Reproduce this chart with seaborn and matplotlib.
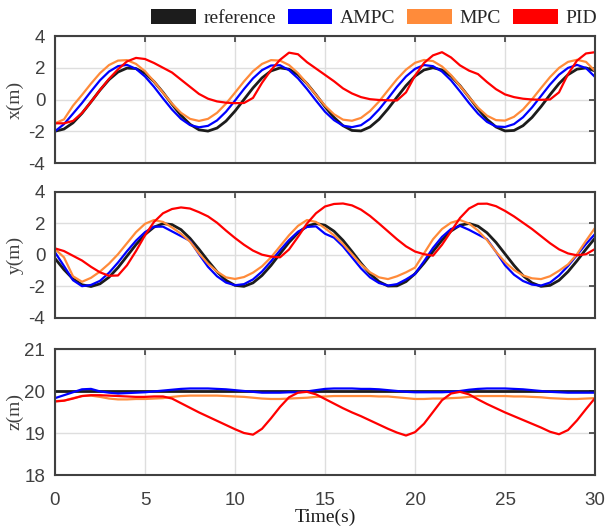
import numpy as np
import pandas as pd
import matplotlib
matplotlib.use("Agg")
import matplotlib.pyplot as plt
from matplotlib.patches import Patch
import seaborn as sns

# ---------------------------------------------------------------- data
time = np.linspace(0, 30, 61)  # 0.5 s sampling

x_reference = [-2.00, -1.86, -1.47, -0.87, -0.15, 0.59, 1.25, 1.73, 1.98, 1.95,
               1.65, 1.13, 0.45, -0.30, -1.00, -1.56, -1.91, -1.99, -1.80, -1.36,
               -0.73, 0.00, 0.73, 1.36, 1.80, 1.99, 1.91, 1.56, 1.00, 0.30,
               -0.45, -1.13, -1.65, -1.95, -1.98, -1.73, -1.25, -0.59, 0.15, 0.87,
               1.47, 1.86, 2.00, 1.86, 1.47, 0.87, 0.15, -0.59, -1.25, -1.73,
               -1.98, -1.95, -1.65, -1.13, -0.45, 0.30, 1.00, 1.56, 1.91, 1.99,
               1.80]
x_ampc = [-2.00, -1.55, -0.89, -0.22, 0.51, 1.21, 1.76, 2.10, 2.18, 1.93,
          1.45, 0.80, 0.07, -0.63, -1.22, -1.61, -1.75, -1.66, -1.32, -0.77,
          -0.07, 0.66, 1.33, 1.85, 2.14, 2.16, 1.85, 1.33, 0.66, -0.07,
          -0.77, -1.30, -1.65, -1.74, -1.62, -1.22, -0.63, 0.07, 0.80, 1.45,
          1.93, 2.17, 2.10, 1.76, 1.21, 0.51, -0.22, -0.89, -1.41, -1.70,
          -1.73, -1.55, -1.12, -0.50, 0.22, 0.94, 1.56, 1.99, 2.18, 1.98,
          1.42]
x_mpc = [-1.50, -1.25, -0.39, 0.29, 1.00, 1.66, 2.17, 2.45, 2.48, 2.24,
         1.78, 1.14, 0.43, -0.26, -0.84, -1.22, -1.35, -1.22, -0.84, -0.26,
         0.43, 1.14, 1.78, 2.24, 2.48, 2.45, 2.17, 1.66, 1.00, 0.29,
         -0.39, -0.93, -1.27, -1.34, -1.16, -0.73, -0.13, 0.58, 1.28, 1.88,
         2.31, 2.49, 2.42, 2.08, 1.54, 0.86, 0.15, -0.51, -1.02, -1.30,
         -1.33, -1.09, -0.63, 0.01, 0.72, 1.41, 1.99, 2.37, 2.50, 2.37,
         1.80]
x_pid = [-1.50, -1.50, -1.35, -0.85, -0.15, 0.60, 1.30, 1.90, 2.40, 2.62,
         2.55, 2.30, 2.00, 1.70, 1.25, 0.80, 0.35, 0.05, -0.12, -0.20,
         -0.23, -0.22, 0.10, 1.05, 1.85, 2.50, 2.95, 2.85, 2.35, 1.95,
         1.55, 1.15, 0.70, 0.38, 0.15, 0.02, -0.03, -0.05, -0.06, 0.45,
         1.50, 2.30, 2.78, 2.98, 2.65, 2.15, 1.82, 1.60, 1.10, 0.65,
         0.32, 0.15, 0.05, 0.00, -0.02, 0.00, 0.45, 1.60, 2.45, 2.90,
         2.98]

y_reference = [-0.22, -0.93, -1.52, -1.89, -2.00, -1.83, -1.41, -0.80, -0.07, 0.66,
               1.30, 1.77, 1.99, 1.93, 1.61, 1.06, 0.37, -0.37, -1.06, -1.61,
               -1.93, -1.99, -1.77, -1.30, -0.66, 0.08, 0.80, 1.41, 1.83, 2.00,
               1.89, 1.51, 0.93, 0.22, -0.52, -1.19, -1.69, -1.97, -1.96, -1.69,
               -1.19, -0.52, 0.23, 0.94, 1.52, 1.89, 2.00, 1.83, 1.41, 0.80,
               0.07, -0.66, -1.31, -1.77, -1.99, -1.93, -1.61, -1.06, -0.37, 0.37,
               1.07]
y_ampc = [0.17, -0.70, -1.60, -1.98, -1.90, -1.64, -1.13, -0.48, 0.24, 0.91,
          1.45, 1.80, 1.80, 1.50, 1.20, 0.90, 0.05, -0.75, -1.35, -1.75,
          -1.92, -1.85, -1.55, -1.05, -0.40, 0.30, 0.95, 1.48, 1.78, 1.82,
          1.35, 1.10, 0.55, -0.15, -0.85, -1.42, -1.78, -1.94, -1.85, -1.55,
          -1.20, -0.40, 0.45, 1.15, 1.65, 1.85, 1.60, 1.30, 1.00, 0.20,
          -0.65, -1.25, -1.65, -1.88, -1.94, -1.75, -1.30, -0.70, 0.00, 0.70,
          1.33]
y_mpc = [0.38, -0.15, -1.35, -1.70, -1.45, -1.05, -0.55, 0.05, 0.75, 1.45,
         1.98, 2.22, 2.10, 1.75, 1.35, 0.85, 0.10, -0.55, -1.05, -1.42,
         -1.52, -1.40, -1.12, -0.72, -0.15, 0.55, 1.25, 1.85, 2.22, 2.10,
         1.70, 1.25, 0.70, 0.05, -0.60, -1.10, -1.42, -1.53, -1.35, -1.10,
         -0.80, 0.10, 1.00, 1.65, 2.05, 2.22, 2.00, 1.55, 0.95, 0.20,
         -0.45, -0.95, -1.30, -1.48, -1.53, -1.35, -1.00, -0.60, 0.05, 0.90,
         1.72]
y_pid = [0.42, 0.25, -0.05, -0.35, -0.75, -1.10, -1.32, -1.30, -0.65, 0.25,
         1.25, 2.10, 2.65, 2.92, 3.02, 2.95, 2.72, 2.45, 2.05, 1.55,
         1.08, 0.65, 0.28, 0.02, -0.10, -0.15, 0.35, 1.15, 2.00, 2.65,
         3.08, 3.24, 3.27, 3.15, 2.88, 2.48, 2.00, 1.50, 1.00, 0.55,
         0.22, 0.05, -0.04, 0.65, 1.50, 2.35, 2.95, 3.25, 3.26, 3.10,
         2.80, 2.45, 2.05, 1.65, 1.20, 0.75, 0.36, 0.10, -0.02, 0.05,
         0.38]

z_reference_time = [0.0, 30.0]
z_reference = [20.0, 20.0]
z_ampc = [19.83, 19.90, 19.97, 20.04, 20.05, 19.99, 19.96, 19.94, 19.95, 19.96,
          19.97, 19.99, 20.01, 20.03, 20.05, 20.06, 20.06, 20.06, 20.05, 20.04,
          20.02, 20.00, 19.98, 19.96, 19.96, 19.96, 19.97, 19.97, 19.99, 20.02,
          20.05, 20.06, 20.06, 20.06, 20.05, 20.05, 20.04, 20.02, 20.00, 19.98,
          19.97, 19.97, 19.97, 19.97, 19.98, 20.00, 20.03, 20.05, 20.06, 20.06,
          20.06, 20.05, 20.04, 20.02, 20.00, 19.98, 19.97, 19.96, 19.96, 19.96,
          19.96]
z_mpc = [19.76, 19.77, 19.83, 19.88, 19.89, 19.86, 19.82, 19.80, 19.80, 19.81,
         19.81, 19.82, 19.83, 19.86, 19.88, 19.89, 19.89, 19.89, 19.89, 19.88,
         19.87, 19.86, 19.84, 19.82, 19.81, 19.81, 19.82, 19.83, 19.84, 19.86,
         19.87, 19.88, 19.88, 19.88, 19.88, 19.88, 19.87, 19.87, 19.85, 19.83,
         19.81, 19.81, 19.82, 19.82, 19.83, 19.84, 19.86, 19.88, 19.88, 19.88,
         19.88, 19.87, 19.87, 19.86, 19.85, 19.83, 19.82, 19.81, 19.81, 19.82,
         19.83]
z_pid = [19.75, 19.77, 19.82, 19.88, 19.90, 19.90, 19.89, 19.88, 19.87, 19.86,
         19.86, 19.87, 19.87, 19.82, 19.71, 19.60, 19.49, 19.39, 19.29, 19.19,
         19.09, 19.00, 18.96, 19.10, 19.35, 19.62, 19.85, 19.96, 19.98, 19.92,
         19.81, 19.70, 19.59, 19.49, 19.40, 19.30, 19.20, 19.10, 19.01, 18.94,
         19.02, 19.22, 19.50, 19.78, 19.94, 19.98, 19.92, 19.80, 19.69, 19.59,
         19.49, 19.40, 19.31, 19.22, 19.13, 19.03, 18.97, 19.07, 19.30, 19.57,
         19.83]

controllers = ["reference", "AMPC", "MPC", "PID"]
colors = {"reference": "#1c1c1c", "AMPC": "#0000ff", "MPC": "#ff8b3a", "PID": "#ff0000"}
widths = {"reference": 2.0, "AMPC": 1.6, "MPC": 1.6, "PID": 1.6}

x_ticks = [0, 5, 10, 15, 20, 25, 30]
xy_ticks = [-4, -2, 0, 2, 4]
z_ticks = [18, 19, 20, 21]

# ---------------------------------------------------------------- style
sns.set_theme(style="white")
plt.rcParams["font.family"] = ["Liberation Sans", "DejaVu Sans"]
plt.rcParams["axes.unicode_minus"] = False
plt.rcParams["axes.edgecolor"] = "#404040"
plt.rcParams["axes.linewidth"] = 1.5

serif = ["Liberation Serif", "DejaVu Serif"]
tick_gray = "#404040"

fig = plt.figure(figsize=(6.07, 5.29), dpi=100)
left, width = 55 / 607, 540 / 607
ax_x = fig.add_axes([left, 1 - 163 / 529, width, 127 / 529])
ax_y = fig.add_axes([left, 1 - 318 / 529, width, 126 / 529])
ax_z = fig.add_axes([left, 1 - 475 / 529, width, 126 / 529])


def draw(ax, series):
    for name in controllers:
        t, v = series[name]
        df = pd.DataFrame({"Time": t, "value": v})
        sns.lineplot(data=df, x="Time", y="value", ax=ax, color=colors[name],
                     linewidth=widths[name], estimator=None, sort=False,
                     legend=False)


draw(ax_x, {"reference": (time, x_reference), "AMPC": (time, x_ampc),
            "MPC": (time, x_mpc), "PID": (time, x_pid)})
draw(ax_y, {"reference": (time, y_reference), "AMPC": (time, y_ampc),
            "MPC": (time, y_mpc), "PID": (time, y_pid)})
draw(ax_z, {"reference": (z_reference_time, z_reference), "AMPC": (time, z_ampc),
            "MPC": (time, z_mpc), "PID": (time, z_pid)})

for ax, ticks, lim, label in [(ax_x, xy_ticks, (-4, 4), "x(m)"),
                              (ax_y, xy_ticks, (-4, 4), "y(m)"),
                              (ax_z, z_ticks, (18, 21), "z(m)")]:
    ax.set_xlim(0, 30)
    ax.set_ylim(*lim)
    ax.set_xticks(x_ticks)
    ax.set_yticks(ticks)
    ax.grid(True, color="#dedede", linewidth=1.0)
    ax.set_axisbelow(True)
    ax.tick_params(direction="in", length=4.5, width=1.2, color=tick_gray,
                   top=True, right=True, labelsize=13.5, labelcolor=tick_gray)
    ax.tick_params(axis="y", pad=7)
    ax.tick_params(axis="x", pad=12)
    for s in ax.spines.values():
        s.set_visible(True)
        s.set_color(tick_gray)
        s.set_linewidth(1.5)
    ax.set_ylabel(label, family=serif, fontsize=14, color=tick_gray)
    ax.yaxis.set_label_coords(-0.058, 0.5)
    ax.set_xlabel("")

ax_x.tick_params(axis="x", labelbottom=False)
ax_y.tick_params(axis="x", labelbottom=False)
ax_z.set_xlabel("Time(s)", family=serif, fontsize=14, color="#1c1c1c")
ax_z.xaxis.set_label_coords(0.5, -0.27)

handles = [Patch(facecolor=colors[c], edgecolor="none") for c in controllers]
fig.legend(handles, controllers, loc="center right",
           bbox_to_anchor=(597 / 607, 1 - 18 / 529), ncol=4, frameon=False,
           handlelength=2.3, handleheight=0.8, handletextpad=0.4,
           columnspacing=0.6, borderpad=0, borderaxespad=0,
           prop={"family": serif, "size": 14})

fig.savefig("out.png", dpi=100)
